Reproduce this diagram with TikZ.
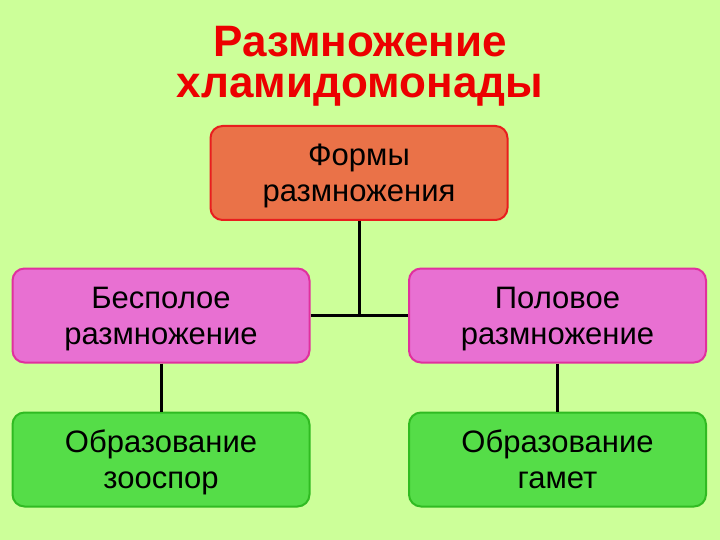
\documentclass[tikz,border=0pt]{standalone}
\usepackage{fontspec}
\setmainfont{Liberation Sans}
\definecolor{bg}{HTML}{CCFF99}
\definecolor{titlered}{HTML}{EC0000}
\definecolor{topfill}{HTML}{EA7248}
\definecolor{topdraw}{HTML}{E81E1E}
\definecolor{pinkfill}{HTML}{E870D2}
\definecolor{pinkdraw}{HTML}{E0309E}
\definecolor{greenfill}{HTML}{55DD48}
\definecolor{greendraw}{HTML}{30BB22}
\newcommand\topst{\rule{0pt}{30pt}}
\newcommand\botst{\rule[-8pt]{0pt}{8pt}}
\tikzset{
  box/.style={rounded corners=12pt, line width=2pt, minimum width=297pt, minimum height=94pt,
    align=center, font=\fontsize{31}{36}\selectfont, text=black, inner sep=0pt},
  topbox/.style={box, fill=topfill, draw=topdraw},
  pinkbox/.style={box, fill=pinkfill, draw=pinkdraw},
  greenbox/.style={box, fill=greenfill, draw=greendraw},
  conn/.style={line width=3pt, black}
}
\begin{document}
\begin{tikzpicture}[x=1pt,y=-1pt]
\fill[bg] (0,0) rectangle (720,540);
\useasboundingbox (0,0) rectangle (720,540);
\node[text=titlered, font=\bfseries\fontsize{44}{41}\selectfont, align=center] (title) at (360,66) {Размножение\\хламидомонады};
\node[topbox] (forms) at (359,173) {\topst Формы\\размножения\botst};
\node[pinkbox] (asex) at (161,315.5) {\topst Бесполое\\размножение\botst};
\node[pinkbox] (sex) at (557.5,315.5) {\topst Половое\\размножение\botst};
\node[greenbox] (zoo) at (161,459.5) {\topst Образование\\зооспор\botst};
\node[greenbox] (gam) at (557.5,459.5) {\topst Образование\\гамет\botst};
\coordinate (j) at (359,316);
\draw[conn] (forms.south) -- (j);
\draw[conn] (asex.east) -- (sex.west);
\draw[conn] (asex.south) -- (zoo.north);
\draw[conn] (sex.south) -- (gam.north);
\end{tikzpicture}
\end{document}
